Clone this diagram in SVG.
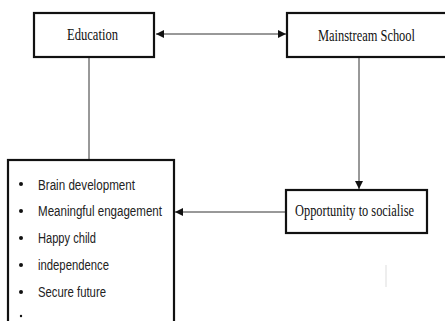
<svg xmlns="http://www.w3.org/2000/svg" width="445" height="321" viewBox="0 0 445 321">
<style>
.box{fill:#fff;stroke:#111;stroke-width:2.2}
.serif{font-family:"Liberation Serif","Times New Roman",serif;font-size:17.5px;fill:#111}
.sans{font-family:"Liberation Sans",Arial,sans-serif;font-size:15.5px;fill:#222}
.conn{stroke:#333;stroke-width:1;fill:none}
</style>
<defs>
<marker id="ah" viewBox="0 0 8 8" refX="8" refY="4" markerWidth="8" markerHeight="8" markerUnits="userSpaceOnUse" orient="auto-start-reverse">
<path d="M0,0 L8,4 L0,8 z" fill="#111"/>
</marker>
</defs>
<rect width="445" height="321" fill="#fff"/>
<g id="connectors">
<line class="conn" x1="156" y1="34" x2="286" y2="34" marker-start="url(#ah)" marker-end="url(#ah)"/>
<line class="conn" x1="89" y1="57" x2="89" y2="160" stroke="#777"/>
<line class="conn" x1="359" y1="57" x2="359" y2="189" marker-end="url(#ah)"/>
<line class="conn" x1="286" y1="212" x2="175" y2="212" marker-end="url(#ah)"/>
</g>
<g id="education">
<rect class="box" x="34" y="13" width="120" height="44"/>
<text class="serif" x="67" y="40" textLength="51" lengthAdjust="spacingAndGlyphs">Education</text>
</g>
<g id="mainstream">
<rect class="box" x="287" y="13" width="162" height="44"/>
<text class="serif" x="318" y="40.5" textLength="97" lengthAdjust="spacingAndGlyphs">Mainstream School</text>
</g>
<g id="opportunity">
<rect class="box" x="286" y="190" width="141" height="43"/>
<text class="serif" x="295" y="216" textLength="119" lengthAdjust="spacingAndGlyphs">Opportunity to socialise</text>
</g>
<g id="outcomes">
<rect class="box" x="8" y="160" width="166" height="170"/>
<g fill="#111">
<circle cx="21" cy="184" r="2"/>
<circle cx="21" cy="211" r="2"/>
<circle cx="21" cy="238" r="2"/>
<circle cx="21" cy="265" r="2"/>
<circle cx="21" cy="292" r="2"/>
<circle cx="21" cy="316" r="1.2"/>
</g>
<text class="sans" x="38" y="190" textLength="97" lengthAdjust="spacingAndGlyphs">Brain development</text>
<text class="sans" x="38" y="216" textLength="124" lengthAdjust="spacingAndGlyphs">Meaningful engagement</text>
<text class="sans" x="38" y="243" textLength="58" lengthAdjust="spacingAndGlyphs">Happy child</text>
<text class="sans" x="38" y="270" textLength="71" lengthAdjust="spacingAndGlyphs">independence</text>
<text class="sans" x="38" y="297" textLength="68" lengthAdjust="spacingAndGlyphs">Secure future</text>
</g>
<line x1="386" y1="265" x2="386" y2="287" stroke="#ddd" stroke-width="1"/>
</svg>
